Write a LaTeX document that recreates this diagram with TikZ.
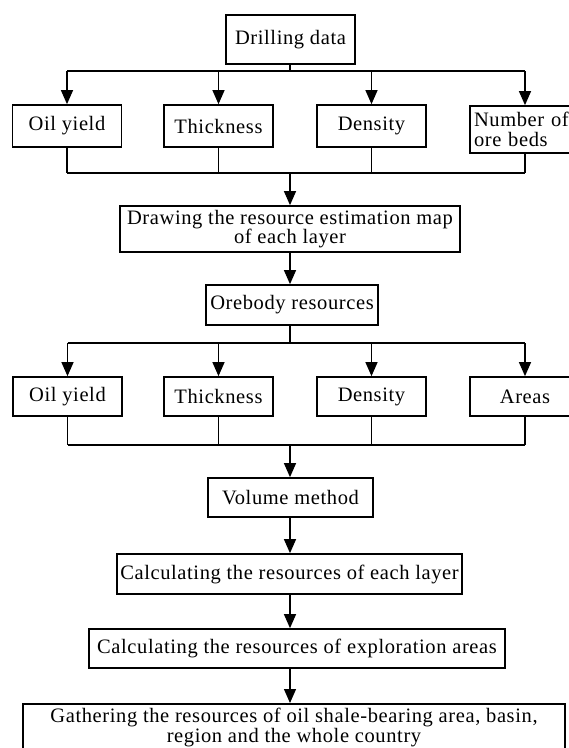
\documentclass[tikz,border=0pt]{standalone}
\usepackage{fontspec}
\setmainfont{Liberation Serif}[LetterSpace=3]
\usetikzlibrary{arrows.meta}
\tikzset{
  box/.style={draw, line width=1.7pt, inner sep=2pt, align=center,
    font=\fontsize{20.5}{19.5}\selectfont},
  link/.style={line width=1.2pt},
  arr/.style={-{Triangle[width=12pt,length=14pt]}}
}
\begin{document}
\begin{tikzpicture}[x=1pt,y=-1pt]
  \useasboundingbox (0,0) rectangle (569,748);
  \clip (0,0) rectangle (569,748);
  \coordinate (axis) at (290,0);
  % first level
  \node [box, minimum width=129pt, minimum height=49pt] (drill) at (290.5,39.5) {Drilling data};
  \node [box, minimum width=109pt, minimum height=42pt] (oil1) at (67,126) {Oil yield};
  \node [box, minimum width=109pt, minimum height=42pt] (thick1) at (218.5,126) {Thickness};
  \node [box, minimum width=109pt, minimum height=42pt] (dens1) at (371.5,126) {Density};
  \node [box, minimum width=110pt, minimum height=47pt, text width=102pt, align=left, inner xsep=4pt] (beds) at (525,129.5) {Number of\\ore beds};
  \node [box, minimum width=340pt, minimum height=46pt] (map) at (290,229) {Drawing the resource estimation map\\of each layer};
  \node [box, minimum width=172pt, minimum height=40pt] (ore) at (292,305) {Orebody resources};
  % second level
  \node [box, minimum width=109pt, minimum height=39pt] (oil2) at (67.5,396.5) {Oil yield};
  \node [box, minimum width=109pt, minimum height=39pt] (thick2) at (218.5,396.5) {Thickness};
  \node [box, minimum width=109pt, minimum height=39pt] (dens2) at (371.5,396.5) {Density};
  \node [box, minimum width=110pt, minimum height=39pt] (areas) at (525,396.5) {Areas};
  \node [box, minimum width=165pt, minimum height=39pt] (vol) at (290.5,497.5) {Volume method};
  \node [box, minimum width=345pt, minimum height=40pt] (layer) at (289.5,574) {Calculating the resources of each layer};
  \node [box, minimum width=416pt, minimum height=39pt] (explore) at (297,648.5) {Calculating the resources of exploration areas};
  \node [box, minimum width=542pt, minimum height=47pt, anchor=north, inner ysep=3pt,
    font=\fontsize{20.5}{18}\selectfont] (gather) at (294,703) {Gathering the resources of oil shale-bearing area, basin,\\region and the whole country};
  % buses
  \coordinate (bus1) at (290,71);
  \coordinate (bus2) at (290,173);
  \coordinate (bus3) at (290,343);
  \coordinate (bus4) at (290,445);
  \draw [link] (axis |- drill.south) -- (bus1);
  \draw [link] (bus1 -| oil1) -- (bus1 -| beds);
  \foreach \n in {oil1,thick1,dens1,beds}
    \draw [link,arr] (bus1 -| \n) -- (\n.north);
  \foreach \n in {oil1,thick1,dens1,beds}
    \draw [link] (\n.south) -- (bus2 -| \n);
  \draw [link] (bus2 -| oil1) -- (bus2 -| beds);
  \draw [link,arr] (bus2) -- (axis |- map.north);
  \draw [link,arr] (axis |- map.south) -- (axis |- ore.north);
  \draw [link] (axis |- ore.south) -- (bus3);
  \draw [link] (bus3 -| oil2) -- (bus3 -| areas);
  \foreach \n in {oil2,thick2,dens2,areas}
    \draw [link,arr] (bus3 -| \n) -- (\n.north);
  \foreach \n in {oil2,thick2,dens2,areas}
    \draw [link] (\n.south) -- (bus4 -| \n);
  \draw [link] (bus4 -| oil2) -- (bus4 -| areas);
  \draw [link,arr] (bus4) -- (axis |- vol.north);
  \draw [link,arr] (axis |- vol.south) -- (axis |- layer.north);
  \draw [link,arr] (axis |- layer.south) -- (axis |- explore.north);
  \draw [link,arr] (axis |- explore.south) -- (axis |- gather.north);
\end{tikzpicture}
\end{document}
